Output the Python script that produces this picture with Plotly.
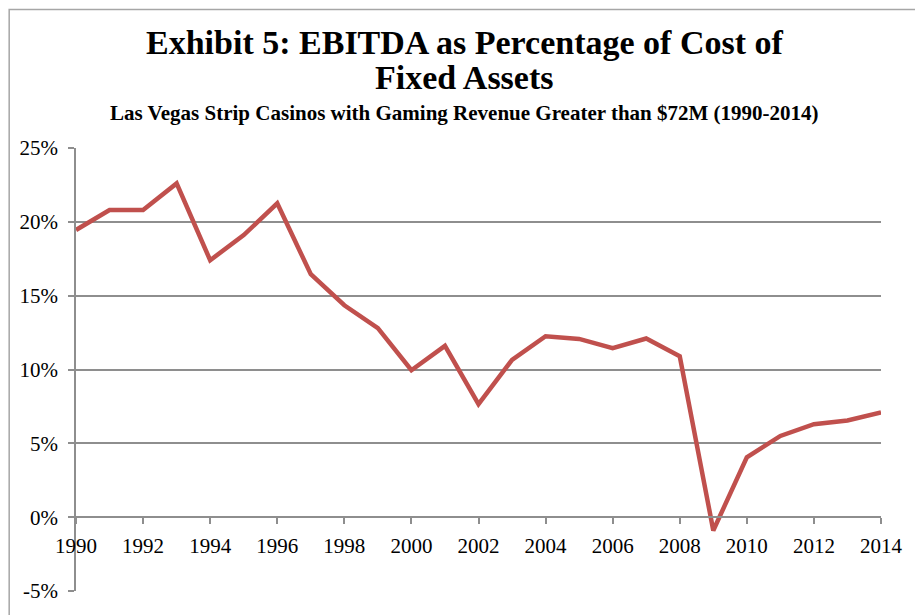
import plotly.graph_objects as go

years = list(range(1990, 2015))
ebitda_pct = [19.45, 20.8, 20.8, 22.6, 17.4, 19.1, 21.25, 16.45, 14.35, 12.8,
              9.95, 11.6, 7.65, 10.65, 12.25, 12.07, 11.45, 12.1, 10.9, -0.9,
              4.05, 5.5, 6.3, 6.55, 7.1]

y_tickvals = [-5, 0, 5, 10, 15, 20, 25]
y_ticktext = ["-5%", "0%", "5%", "10%", "15%", "20%", "25%"]
x_tickvals = list(range(1990, 2015, 2))

title_line1 = "Exhibit 5: EBITDA as Percentage of Cost of"
title_line2 = "Fixed Assets"
subtitle = "Las Vegas Strip Casinos with Gaming Revenue Greater than $72M (1990-2014)"

SERIF = "Liberation Serif, Times New Roman, serif"
GRID = "#8E8E8E"

fig = go.Figure()
fig.add_trace(go.Scatter(
    x=years, y=ebitda_pct, mode="lines",
    line=dict(color="#C0504D", width=4.5),
    showlegend=False, hoverinfo="skip"))

fig.update_layout(
    width=915, height=607,
    margin=dict(l=68, r=42, t=140, b=22),
    paper_bgcolor="white", plot_bgcolor="white",
    font=dict(family=SERIF, color="black", size=21),
    xaxis=dict(
        range=[1990, 2014], tickvals=x_tickvals,
        ticktext=[str(v) for v in x_tickvals],
        anchor="free", position=1/6,
        showline=True, linecolor=GRID, linewidth=1.5,
        ticks="outside", ticklen=6, tickcolor=GRID, tickwidth=1.5,
        ticklabelstandoff=4,
        showgrid=False, zeroline=False,
        tickfont=dict(family=SERIF, size=21, color="black"),
    ),
    yaxis=dict(
        range=[-5, 25], tickvals=y_tickvals, ticktext=y_ticktext,
        showline=True, linecolor=GRID, linewidth=1.5,
        ticks="outside", ticklen=6, tickcolor=GRID, tickwidth=1.5,
        ticklabelstandoff=6,
        showgrid=True, gridcolor=GRID, gridwidth=1.5,
        zeroline=False,
        tickfont=dict(family=SERIF, size=21, color="black"),
    ),
    annotations=[
        dict(text="<b>" + title_line1 + "</b>", xref="paper", yref="paper",
             x=0.483, y=1.238, xanchor="center", yanchor="middle",
             showarrow=False, font=dict(family=SERIF, size=34, color="black")),
        dict(text="<b>" + title_line2 + "</b>", xref="paper", yref="paper",
             x=0.483, y=1.160, xanchor="center", yanchor="middle",
             showarrow=False, font=dict(family=SERIF, size=34, color="black")),
        dict(text="<b>" + subtitle + "</b>", xref="paper", yref="paper",
             x=0.483, y=1.0787, xanchor="center", yanchor="middle",
             showarrow=False, font=dict(family=SERIF, size=21, color="black")),
    ],
    shapes=[
        dict(type="rect", xref="paper", yref="paper",
             x0=-0.083, y0=-0.1, x1=1.1, y1=1.3125,
             line=dict(color="#A6A6A6", width=1.5), fillcolor="rgba(0,0,0,0)",
             layer="below"),
    ],
)

fig.write_html("out.html")
